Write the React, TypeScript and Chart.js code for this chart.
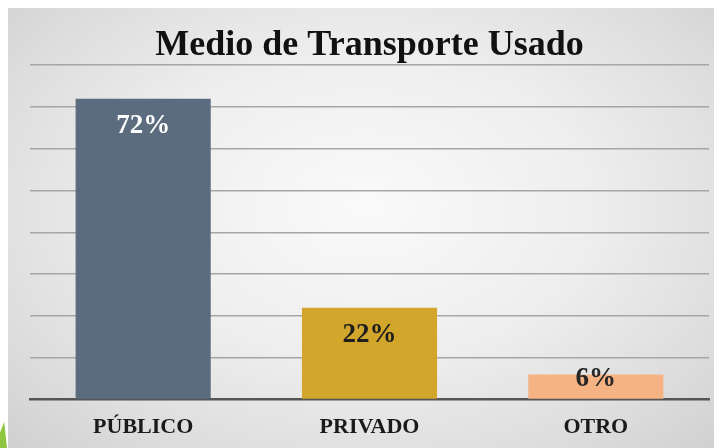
import React, { useEffect, useRef } from "react";
import { Chart, registerables } from "chart.js";

Chart.register(...registerables);

const categories = ["PÚBLICO", "PRIVADO", "OTRO"];
const values = [72, 22, 6];
const valueLabels = ["72%", "22%", "6%"];
const barColors = ["#5c6c7f", "#d2a52b", "#f5b384"];
const labelColors = ["#ffffff", "#1e1e1e", "#262626"];
const yMax = 80;
const yStep = 10;

const FONT = "'Liberation Serif', 'Times New Roman', serif";

const dataLabelPlugin = {
  id: "dataLabels",
  afterDatasetsDraw(chart: any) {
    const ctx = chart.ctx;
    const meta = chart.getDatasetMeta(0);
    ctx.save();
    ctx.font = `bold 27px ${FONT}`;
    ctx.textAlign = "center";
    ctx.textBaseline = "middle";
    meta.data.forEach((bar: any, i: number) => {
      const y = Math.min(bar.y + 27, bar.base - 20);
      ctx.fillStyle = labelColors[i];
      ctx.fillText(valueLabels[i], bar.x, y);
    });
    ctx.restore();
  },
};

export default function App() {
  const ref = useRef<HTMLCanvasElement | null>(null);
  useEffect(() => {
    if (!ref.current) return;
    const chart = new Chart(ref.current, {
      type: "bar",
      data: {
        labels: categories,
        datasets: [
          {
            data: values,
            backgroundColor: barColors,
            borderWidth: 0,
            barPercentage: 0.597,
            categoryPercentage: 1,
          },
        ],
      },
      options: {
        responsive: false,
        animation: false,
        layout: { padding: { left: 22, right: 13, top: 0, bottom: -8 } },
        plugins: {
          legend: { display: false },
          tooltip: { enabled: false },
          title: {
            display: true,
            text: "Medio de Transporte Usado",
            color: "#111111",
            font: { family: FONT, size: 36, weight: "bold", lineHeight: 1.2 },
            padding: { top: 16, bottom: -2 },
          },
        },
        scales: {
          x: {
            grid: { display: false, drawTicks: false },
            border: { display: true, color: "#555555", width: 2.5 },
            ticks: {
              color: "#1a1a1a",
              padding: 15,
              font: { family: FONT, size: 22, weight: "bold", lineHeight: 1.2 },
            },
          },
          y: {
            min: 0,
            max: yMax,
            ticks: { display: false, stepSize: yStep },
            border: { display: false },
            grid: {
              drawTicks: false,
              color: (c: any) => (c.tick && c.tick.value === 0 ? "rgba(0,0,0,0)" : "#a6a6a6"),
              lineWidth: 1.6,
            },
          },
        },
      },
      plugins: [dataLabelPlugin],
    });
    return () => chart.destroy();
  }, []);

  return (
    <div style={{ position: "relative" }}>
      <div
        style={{
          width: 714,
          height: 440,
          background:
            "radial-gradient(ellipse at 50% 45%, #fafafa 0%, #eeeeee 45%, #dcdcdc 80%, #d0d0d0 100%)",
        }}
      >
        <canvas ref={ref} width={714} height={440} style={{ display: "block" }} />
      </div>
      <div
        style={{
          position: "fixed",
          left: 0,
          top: 422,
          width: 7,
          height: 26,
          background: "#8dc63f",
          clipPath: "polygon(0% 100%, 0% 40%, 60% 0%, 100% 100%)",
        }}
      />
    </div>
  );
}
